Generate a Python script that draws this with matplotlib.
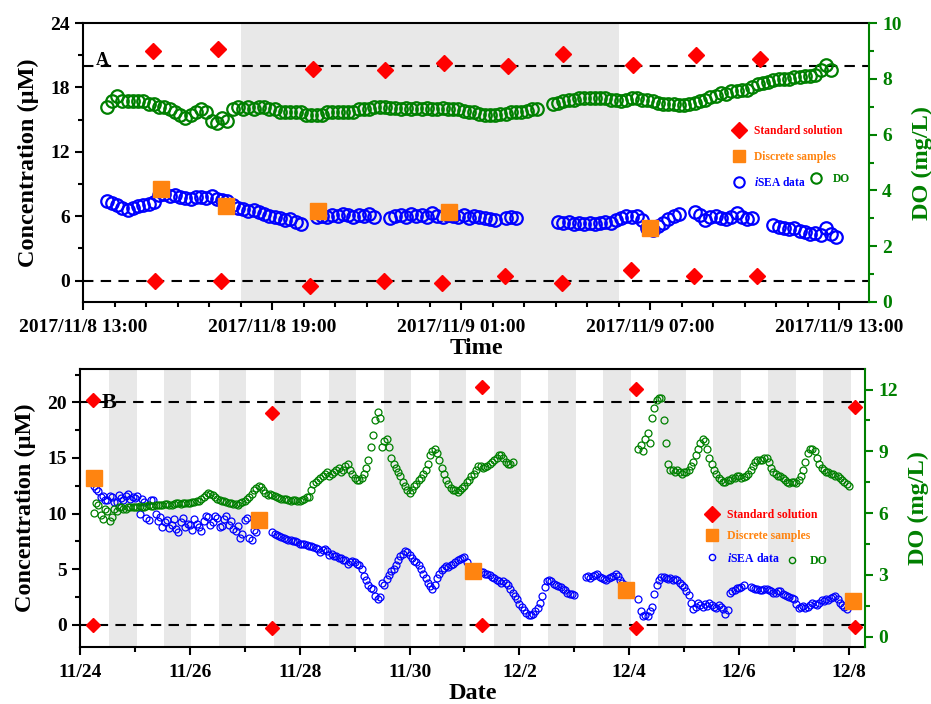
import numpy as np
import pandas as pd
import matplotlib
matplotlib.use('Agg')
import matplotlib.pyplot as plt
import matplotlib.dates as mdates
from matplotlib.lines import Line2D
from matplotlib.ticker import MultipleLocator, FuncFormatter, FixedLocator

plt.rcParams['font.family'] = 'Liberation Serif'
plt.rcParams['font.weight'] = 'bold'
plt.rcParams['axes.labelweight'] = 'bold'
plt.rcParams['mathtext.fontset'] = 'custom'
plt.rcParams['mathtext.rm'] = 'Liberation Serif:bold'
plt.rcParams['mathtext.it'] = 'Liberation Serif:italic:bold'

RED = '#ff0000'
ORANGE = '#ff8410'
BLUE = '#0000ff'
GREEN = '#008000'
GREY = '#e8e8e8'

nan = np.nan

# ---------------- Panel A: 10-min readings from 2017/11/8 13:45 ----------------
a_start = '2017-11-08 13:45'
a_isea = [
    7.4, 7.2, 7.0, 6.8, 6.6, 6.8,
    6.9, 7.0, 7.1, 7.3, 8.0, 8.1,
    7.9, 8.0, 7.8, 7.7, 7.6, 7.8,
    7.8, 7.7, 7.9, 7.6, 7.5, 7.4,
    7.0, 6.8, 6.7, 6.5, 6.6, 6.4,
    6.2, 6.0, 5.9, 5.8, 5.6, 5.7,
    5.5, 5.3, nan, nan, 5.9, 6.0,
    5.9, 6.1, 6.0, 6.2, 6.1, 5.9,
    6.1, 6.0, 6.2, 5.9, nan, nan,
    5.8, 6.0, 6.1, 5.9, 6.2, 6.0,
    6.1, 5.9, 6.3, 6.0, 5.9, 6.1,
    6.0, 5.9, 6.1, 5.8, 6.0, 5.9,
    5.8, 5.7, 5.6, nan, 5.8, 5.9,
    5.8, nan, nan, nan, nan, nan,
    nan, nan, 5.5, 5.4, 5.5, 5.3,
    5.4, 5.3, 5.4, 5.3, 5.4, 5.5,
    5.4, 5.6, 5.8, 6.0, 5.9, 6.0,
    5.6, 4.9, 4.7, 5.1, 5.4, 5.7,
    6.0, 6.2, nan, nan, 6.4, 6.1,
    5.6, 5.9, 6.0, 5.8, 5.7, 5.9,
    6.3, 5.9, 5.7, 5.8, nan, nan,
    nan, 5.2, 5.0, 4.9, 4.8, 4.9,
    4.6, 4.5, 4.3, 4.4, 4.2, 4.9,
    4.3, 4.1,
]
a_do = [
    7.0, 7.2, 7.4, 7.2, 7.2, 7.2,
    7.2, 7.2, 7.1, 7.1, 7.0, 7.0,
    6.9, 6.8, 6.7, 6.6, 6.7, 6.8,
    6.9, 6.8, 6.5, 6.4, 6.6, 6.5,
    6.9, 7.0, 6.9, 7.0, 6.9, 7.0,
    7.0, 6.9, 6.9, 6.8, 6.8, 6.8,
    6.8, 6.8, 6.7, 6.7, 6.7, 6.7,
    6.8, 6.8, 6.8, 6.8, 6.8, 6.8,
    6.9, 6.9, 6.9, 7.0, 7.0, 7.0,
    6.95, 6.95, 6.9, 6.95, 6.9, 6.95,
    6.9, 6.95, 6.9, 6.9, 6.95, 6.9,
    6.9, 6.9, 6.85, 6.8, 6.8, 6.75,
    6.7, 6.7, 6.7, 6.75, 6.75, 6.8,
    6.8, 6.8, 6.85, 6.9, 6.9, nan,
    nan, 7.1, 7.15, 7.2, 7.25, 7.25,
    7.3, 7.3, 7.3, 7.3, 7.3, 7.3,
    7.25, 7.25, 7.2, 7.25, 7.3, 7.3,
    7.25, 7.25, 7.2, 7.15, 7.1, 7.1,
    7.1, 7.05, 7.05, 7.1, 7.15, 7.2,
    7.25, 7.35, 7.4, 7.5, 7.45, 7.55,
    7.55, 7.6, 7.6, 7.7, 7.8, 7.85,
    7.9, 7.95, 8.0, 8.0, 8.0, 8.05,
    8.05, 8.1, 8.1, 8.15, 8.3, 8.5,
    8.3,
]
a_std_time = ['2017-11-08 15:13', '2017-11-08 17:17', '2017-11-08 20:18', '2017-11-08 22:36',
              '2017-11-09 00:28', '2017-11-09 02:30', '2017-11-09 04:15', '2017-11-09 06:28',
              '2017-11-09 08:28', '2017-11-09 10:30']
a_std_high = [21.4, 21.6, 19.7, 19.6, 20.3, 20.0, 21.1, 20.1, 21.0, 20.6]
a_std_low_time = ['2017-11-08 15:18', '2017-11-08 17:23', '2017-11-08 20:12', '2017-11-08 22:34',
                  '2017-11-09 00:24', '2017-11-09 02:24', '2017-11-09 04:12', '2017-11-09 06:24',
                  '2017-11-09 08:24', '2017-11-09 10:24']
a_std_low = [0.0, 0.0, -0.5, 0.0, -0.25, 0.45, -0.25, 0.95, 0.45, 0.45]
a_disc_time = ['2017-11-08 15:29', '2017-11-08 17:33', '2017-11-08 20:28', '2017-11-09 00:38',
               '2017-11-09 07:00']
a_disc = [8.56, 6.95, 6.5, 6.4, 4.9]

# ---------------- Panel B: hourly readings from 2017/11/24 00:00 ----------------
b_start = '2017-11-24 00:00'
b_isea = [
    # 11/24
    nan, nan, nan, nan, nan, nan, 12.5, 12.2, 12.0, 11.5, 11.6, 11.2,
    11.2, 11.6, 11.5, 11.0, 11.0, 11.7, 11.4, 11.2, 11.6, 11.8, 11.3, 11.5,
    # 11/25
    11.4, 11.6, 10.0, 11.3, 11.0, 9.6, 9.4, 11.2, 11.2, 10.0, 9.3, 9.7,
    8.8, 9.2, 9.4, 8.7, 9.0, 9.5, 8.6, 8.3, 9.2, 9.6, 8.8, 9.1,
    # 11/26
    9.0, 8.5, 9.5, 9.1, 8.8, 8.4, 9.3, 9.8, 9.7, 9.0, 9.2, 9.8,
    9.6, 8.8, 8.9, 9.5, 9.8, 9.0, 9.3, 8.6, 8.4, 8.9, 7.8, 8.2,
    # 11/27
    9.4, 9.6, 7.8, 7.6, 8.5, 8.3, nan, nan, nan, nan, nan, nan,
    8.3, 8.2, 8.1, 8.0, 7.9, 7.8, 7.7, 7.6, 7.6, 7.5, 7.5, 7.4,
    # 11/28
    7.3, 7.3, 7.3, 7.2, 7.1, 7.1, 7.0, 6.9, 6.8, 6.5, 6.7, 6.8,
    6.6, 6.3, 6.4, 6.2, 6.2, 6.0, 6.0, 5.8, 5.8, 5.5, 5.6, 5.7,
    # 11/29
    5.6, 5.5, 5.4, 5.0, 4.4, 4.0, 3.6, 3.3, 3.2, 2.6, 2.3, 2.5,
    3.8, 3.6, 4.1, 4.5, 4.8, 5.0, 5.4, 5.8, 6.2, 6.4, 6.6, 6.5,
    # 11/30
    6.3, 6.0, 5.7, 5.6, 5.4, 5.0, 4.6, 4.2, 3.8, 3.5, 3.2, 3.6,
    4.2, 4.6, 4.9, 5.1, 5.3, 5.2, 5.4, 5.5, 5.6, 5.8, 5.9, 6.0,
    # 12/1
    6.1, 5.6, 5.2, 5.0, 4.9, 4.8, 4.8, 4.7, 4.7, 4.6, 4.6, 4.5,
    4.3, 4.2, 4.0, 3.9, 3.8, 3.9, 3.8, 3.6, 3.2, 2.9, 2.6, 2.3,
    # 12/2
    1.9, 1.6, 1.3, 1.1, 0.9, 0.9, 1.0, 1.2, 1.5, 2.0, 2.6, 3.4,
    3.9, 4.0, 3.9, 3.7, 3.6, 3.5, 3.4, 3.2, 3.1, 2.9, 2.8, 2.8,
    # 12/3
    2.7, nan, nan, nan, nan, 4.3, 4.4, 4.2, 4.4, 4.5, 4.6, 4.3,
    4.2, 4.1, 4.0, 4.2, 4.3, 4.4, 4.6, 4.4, 4.0, 3.8, 3.6, 3.3,
    # 12/4
    nan, nan, nan, nan, 2.3, 1.2, 0.8, 0.9, 0.8, 1.2, 1.6, 2.8,
    3.6, 4.0, 4.3, 4.3, 4.2, 4.1, 4.2, 4.0, 4.1, 4.0, 3.8, 3.6,
    # 12/5
    3.4, 3.0, 2.7, 2.0, 1.4, 1.6, 2.0, 1.8, 1.6, 1.9, 1.7, 2.0,
    1.8, 1.6, 1.5, 1.8, 1.6, 1.4, 1.0, 1.3, 2.9, 3.0, 3.1, 3.3,
    # 12/6
    3.3, 3.4, 3.6, nan, nan, 3.4, 3.3, 3.2, 3.2, 3.1, 3.1, 3.2,
    3.2, 3.1, 3.0, 2.9, 2.9, 3.0, 3.0, 2.8, 2.7, 2.6, 2.5, 2.4,
    # 12/7
    2.3, 1.9, 1.5, 1.6, 1.7, 1.5, 1.6, 1.8, 2.0, 1.9, 1.8, 2.0,
    2.2, 2.1, 2.3, 2.2, 2.4, 2.5, 2.6, 2.3, 2.0, 1.8, 1.6, 1.4,
]
b_do = [
    # 11/24
    nan, nan, nan, nan, nan, nan, 6.0, 6.5, 6.4, 5.9, 5.7, 6.2,
    6.1, 5.6, 5.8, 6.2, 6.1, 6.3, 6.3, 6.2, 6.2, 6.3, 6.3, 6.3,
    # 11/25
    6.3, 6.3, 6.35, 6.3, 6.3, 6.35, 6.4, 6.35, 6.35, 6.4, 6.4, 6.4,
    6.4, 6.45, 6.45, 6.4, 6.4, 6.45, 6.5, 6.5, 6.45, 6.5, 6.5, 6.5,
    # 11/26
    6.5, 6.55, 6.55, 6.6, 6.6, 6.7, 6.8, 6.9, 7.0, 6.95, 6.9, 6.8,
    6.7, 6.65, 6.6, 6.6, 6.55, 6.5, 6.5, 6.45, 6.45, 6.4, 6.5, 6.55,
    # 11/27
    6.6, 6.7, 6.8, 6.95, 7.1, 7.2, 7.3, 7.25, 7.1, 7.0, 6.9, 6.95,
    6.9, 6.85, 6.8, 6.75, 6.7, 6.7, 6.7, 6.65, 6.6, 6.65, 6.65, 6.6,
    # 11/28
    6.6, 6.65, 6.7, 6.8, 6.8, 7.1, 7.4, 7.5, 7.6, 7.7, 7.8, 7.9,
    8.0, 7.8, 7.9, 8.0, 8.1, 8.2, 8.0, 8.1, 8.3, 8.4, 8.1, 7.9,
    # 11/29
    7.7, 7.6, 7.6, 7.7, 7.9, 8.2, 8.6, 9.2, 9.8, 10.5, 10.9, 10.6,
    9.2, 9.5, 9.6, 9.2, 8.7, 8.4, 8.2, 8.0, 7.8, 7.5, 7.3, 7.1,
    # 11/30
    7.0, 7.1, 7.3, 7.4, 7.6, 7.7, 7.9, 8.1, 8.4, 8.8, 9.0, 9.1,
    8.9, 8.6, 8.2, 7.9, 7.6, 7.4, 7.2, 7.1, 7.1, 7.05, 7.1, 7.2,
    # 12/1
    7.3, 7.5, 7.6, 7.8, 7.9, 8.1, 8.3, 8.3, 8.2, 8.25, 8.3, 8.4,
    8.5, 8.6, 8.7, 8.8, 8.8, 8.7, 8.5, 8.4, 8.4, 8.5, nan, nan,
    # 12/2
    nan, nan, nan, nan, nan, nan, nan, nan, nan, nan, nan, nan,
    nan, nan, nan, nan, nan, nan, nan, nan, nan, nan, nan, nan,
    # 12/3
    nan, nan, nan, nan, nan, nan, nan, nan, nan, nan, nan, nan,
    nan, nan, nan, nan, nan, nan, nan, nan, nan, nan, nan, nan,
    # 12/4
    nan, nan, nan, nan, 9.1, 9.3, 9.0, 9.6, 9.9, 9.4, 10.6, 11.1,
    11.5, 11.6, 11.6, 10.5, 9.4, 8.4, 8.1, 8.1, 8.0, 8.1, 8.0, 7.9,
    # 12/5
    8.0, 8.0, 8.1, 8.3, 8.5, 8.8, 9.1, 9.4, 9.6, 9.5, 9.1, 8.7,
    8.4, 8.1, 7.9, 7.7, 7.6, 7.5, 7.5, 7.6, 7.6, 7.7, 7.7, 7.8,
    # 12/6
    7.8, 7.7, 7.75, 7.8, 7.9, 8.1, 8.3, 8.5, 8.6, 8.6, 8.6, 8.7,
    8.7, 8.5, 8.2, 8.0, 7.9, 7.8, 7.8, 7.7, 7.6, 7.5, 7.45, 7.5,
    # 12/7
    7.5, 7.45, 7.6, 7.8, 8.1, 8.5, 8.9, 9.1, 9.1, 9.0, 8.7, 8.4,
    8.2, 8.1, 8.0, 8.0, 7.9, 7.9, 7.8, 7.8, 7.7, 7.6, 7.5, 7.4,
    # 12/8
    7.3,
]
b_std_time = ['2017-11-24 05:46', '2017-11-27 11:46', '2017-12-01 07:26', '2017-12-04 03:07',
              '2017-12-08 02:38']
b_std_high = [20.2, 19.0, 21.4, 21.2, 19.6]
b_std_low = [0.0, -0.25, 0.0, -0.3, -0.2]
b_disc_time = ['2017-11-24 06:00', '2017-11-27 06:00', '2017-12-01 03:36', '2017-12-03 22:34',
               '2017-12-08 01:55']
b_disc = [13.2, 9.4, 4.8, 3.1, 2.1]

a_t = pd.date_range(a_start, periods=len(a_isea), freq='10min')
a_t_do = pd.date_range(a_start, periods=len(a_do), freq='10min')
b_t = pd.date_range(b_start, periods=len(b_isea), freq='h')
b_t_do = pd.date_range(b_start, periods=len(b_do), freq='h')

fig = plt.figure(figsize=(9.31, 7.04), dpi=100)
axA = fig.add_axes([83 / 931, 1 - 302 / 704, 786 / 931, 279 / 704])
axB = fig.add_axes([80 / 931, 1 - 647 / 704, 785 / 931, 278 / 704])


def fmt_a(x, pos):
    d = mdates.num2date(x)
    return f"{d.year}/{d.month}/{d.day} {d:%H:%M}"


def fmt_b(x, pos):
    d = mdates.num2date(x)
    return f"{d.month}/{d.day}"


def style_axes(ax, axr):
    for s in ['left', 'bottom', 'top']:
        ax.spines[s].set_linewidth(1.5)
    ax.spines['right'].set_visible(False)
    for s in ['left', 'bottom', 'top']:
        axr.spines[s].set_visible(False)
    axr.spines['right'].set_color(GREEN)
    axr.spines['right'].set_linewidth(1.5)
    ax.tick_params(axis='both', which='major', direction='out', length=6, width=1.5, labelsize=14)
    ax.tick_params(axis='both', which='minor', direction='out', length=3.5, width=1.5)
    ax.tick_params(axis='x', pad=6)
    axr.tick_params(axis='y', which='major', direction='out', length=6, width=1.5,
                    labelsize=14, colors=GREEN)
    axr.tick_params(axis='y', which='minor', direction='out', length=3.5, width=1.5, colors=GREEN)
    for lab in ax.get_xticklabels() + ax.get_yticklabels() + axr.get_yticklabels():
        lab.set_fontweight('bold')


dash = (0, (5, 3.5))

# ---------------- Panel A ----------------
axA.axvspan(pd.Timestamp('2017-11-08 18:00'), pd.Timestamp('2017-11-09 06:00'),
            color=GREY, lw=0, zorder=0)
axA.axhline(0, color='black', ls=dash, lw=1.5, zorder=1)
axA.axhline(20, color='black', ls=dash, lw=1.5, zorder=1)
axA.plot(a_t, a_isea, ls='none', marker='o', ms=9, mfc='none', mec=BLUE, mew=1.6, zorder=2)
axA.plot(pd.to_datetime(a_std_time), a_std_high, ls='none', marker='D', ms=8, color=RED, zorder=3)
axA.plot(pd.to_datetime(a_std_low_time), a_std_low, ls='none', marker='D', ms=8, color=RED, zorder=3)
axA.plot(pd.to_datetime(a_disc_time), a_disc, ls='none', marker='s', ms=11, color=ORANGE, zorder=4)

axAr = axA.twinx()
axAr.plot(a_t_do, a_do, ls='none', marker='o', ms=9, mfc='none', mec=GREEN, mew=1.6)

axA.set_xlim(pd.Timestamp('2017-11-08 13:00'), pd.Timestamp('2017-11-09 13:57'))
axA.set_ylim(-2, 24)
axAr.set_ylim(0, 10)
axA.xaxis.set_major_locator(mdates.HourLocator(byhour=[1, 7, 13, 19]))
axA.xaxis.set_minor_locator(mdates.HourLocator())
axA.xaxis.set_major_formatter(FuncFormatter(fmt_a))
axA.yaxis.set_major_locator(MultipleLocator(6))
axA.yaxis.set_minor_locator(MultipleLocator(3))
axAr.yaxis.set_major_locator(MultipleLocator(2))
axAr.yaxis.set_minor_locator(MultipleLocator(1))
style_axes(axA, axAr)
axA.set_xlabel('Time', fontsize=17.5, labelpad=2)
axA.set_ylabel('Concentration (μM)', fontsize=17.5, labelpad=8)
axAr.set_ylabel('DO (mg/L)', fontsize=17.5, color=GREEN, labelpad=7)
axA.text(0.0165, 0.864, 'A', transform=axA.transAxes, fontsize=13, fontweight='bold',
         ha='left', va='center')

# ---------------- Panel B ----------------
for d in pd.date_range('2017-11-24', periods=14, freq='D'):
    axB.axvspan(d + pd.Timedelta(hours=12.7), d + pd.Timedelta(hours=24.7),
                color=GREY, lw=0, zorder=0)
axB.axhline(0, color='black', ls=dash, lw=1.5, zorder=1)
axB.axhline(20, color='black', ls=dash, lw=1.5, zorder=1)
axB.plot(b_t, b_isea, ls='none', marker='o', ms=5, mfc='none', mec=BLUE, mew=0.9, zorder=2)
axB.plot(pd.to_datetime(b_std_time), b_std_high, ls='none', marker='D', ms=7.5, color=RED, zorder=3)
axB.plot(pd.to_datetime(b_std_time), b_std_low, ls='none', marker='D', ms=7.5, color=RED, zorder=3)
axB.plot(pd.to_datetime(b_disc_time), b_disc, ls='none', marker='s', ms=11, color=ORANGE, zorder=4)

axBr = axB.twinx()
axBr.plot(b_t_do, b_do, ls='none', marker='o', ms=5, mfc='none', mec=GREEN, mew=0.9)

axB.set_xlim(pd.Timestamp('2017-11-24 00:00'), pd.Timestamp('2017-12-08 07:00'))
axB.set_ylim(-2, 23)
axBr.set_ylim(-0.5, 13)
axB.xaxis.set_major_locator(FixedLocator(mdates.date2num(pd.date_range('2017-11-24', '2017-12-08', freq='2D'))))
axB.xaxis.set_minor_locator(FixedLocator(mdates.date2num(pd.date_range('2017-11-24', '2017-12-08', freq='D'))))
axB.xaxis.set_major_formatter(FuncFormatter(fmt_b))
axB.yaxis.set_major_locator(MultipleLocator(5))
axB.yaxis.set_minor_locator(MultipleLocator(2.5))
axBr.yaxis.set_major_locator(MultipleLocator(3))
axBr.yaxis.set_minor_locator(MultipleLocator(1.5))
style_axes(axB, axBr)
axB.set_xlabel('Date', fontsize=17.5, labelpad=2)
axB.set_ylabel('Concentration (μM)', fontsize=17.5, labelpad=8)
axBr.set_ylabel('DO (mg/L)', fontsize=17.5, color=GREEN, labelpad=7)
axB.text(0.0276, 0.877, 'B', transform=axB.transAxes, fontsize=16, fontweight='bold',
         ha='left', va='center')


# ---------------- legends ----------------
def add_legends(ax, axr, x1, y1, x2, y2, fs, ls, circ_ms, circ_mew):
    h = [Line2D([], [], ls='none', marker='D', ms=8, color=RED),
         Line2D([], [], ls='none', marker='s', ms=9, color=ORANGE),
         Line2D([], [], ls='none', marker='o', ms=circ_ms, mfc='none', mec=BLUE, mew=circ_mew)]
    labels = ['Standard solution', 'Discrete samples', r'$\mathit{i}$SEA data']
    leg = ax.legend(h, labels, loc='upper left', bbox_to_anchor=(x1, y1), frameon=False,
                    fontsize=fs, labelspacing=ls, handlelength=1.0, handletextpad=0.8,
                    borderpad=0, borderaxespad=0)
    for t, c in zip(leg.get_texts(), [RED, ORANGE, BLUE]):
        t.set_color(c)
        t.set_fontweight('bold')
    hd = [Line2D([], [], ls='none', marker='o', ms=circ_ms, mfc='none', mec=GREEN, mew=circ_mew)]
    leg2 = axr.legend(hd, ['DO'], loc='upper left', bbox_to_anchor=(x2, y2), frameon=False,
                      fontsize=fs, handlelength=1.0, handletextpad=1.0,
                      borderpad=0, borderaxespad=0)
    for t in leg2.get_texts():
        t.set_color(GREEN)
        t.set_fontweight('bold')


add_legends(axA, axAr, 0.827, 0.633, 0.925, 0.461, 8.3, 1.15, 7.5, 1.5)
add_legends(axB, axBr, 0.797, 0.496, 0.899, 0.331, 8.5, 0.78, 4.5, 1.0)

fig.savefig('out.png', dpi=100)
